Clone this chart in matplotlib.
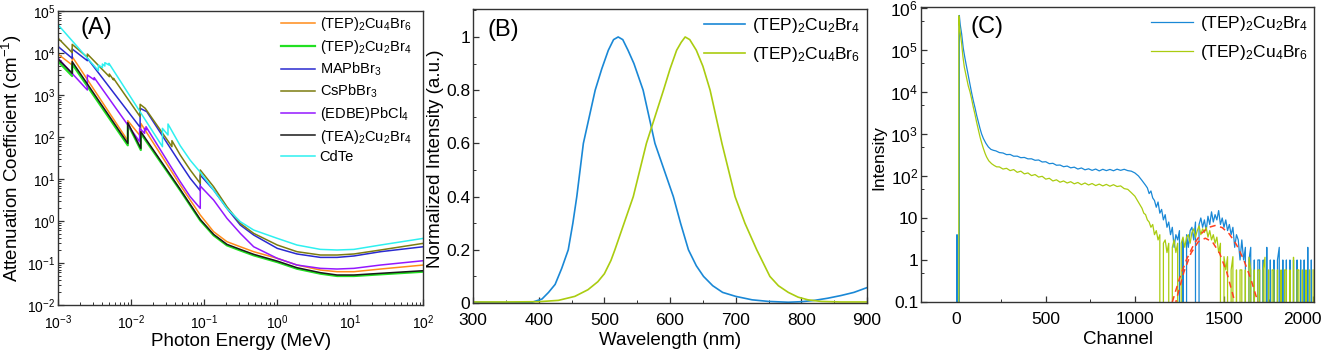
import math
import matplotlib
matplotlib.use("Agg")
import matplotlib.pyplot as plt
import matplotlib.transforms as mtransforms
from matplotlib.ticker import LogLocator, MultipleLocator, FuncFormatter, NullFormatter

plt.rcParams['font.family'] = ['Liberation Sans', 'DejaVu Sans']
plt.rcParams['mathtext.fontset'] = 'custom'
plt.rcParams['mathtext.rm'] = 'Liberation Sans'
plt.rcParams['mathtext.default'] = 'regular'
plt.rcParams['axes.linewidth'] = 1.0

# ---------------- (A) attenuation coefficient ----------------
E_cu = [0.001, 0.00155, 0.00155, 0.00895, 0.00895, 0.0135, 0.0135, 0.0468, 0.0641, 0.088,
        0.134, 0.204, 0.311, 0.474, 1.0, 1.86, 3.89, 6.59, 11.2, 25.9, 100]
mu_tep_cu4br6 = [9290, 5176, 8180, 81.8, 245, 102, 211, 7.19, 3.16, 1.39,
                 0.557, 0.322, 0.244, 0.186, 0.129, 0.0895, 0.068, 0.0621, 0.0621, 0.0719, 0.0895]
mu_tep_cu2br4 = [6223, 2831, 5470, 63.4, 204, 49.0, 122, 5.36, 2.35, 1.03,
                 0.455, 0.263, 0.199, 0.152, 0.105, 0.073, 0.0557, 0.049, 0.049, 0.0537, 0.062]
mu_tea_cu2br4 = [7063, 3281, 6223, 70.6, 219, 53.7, 134, 5.67, 2.49, 1.09,
                 0.481, 0.278, 0.211, 0.161, 0.111, 0.0773, 0.0589, 0.0518, 0.0518, 0.0568, 0.0656]

E_mapbbr3 = [0.001, 0.00155, 0.00155, 0.0025, 0.0025, 0.0132, 0.0132, 0.0163, 0.0468, 0.0641,
             0.088, 0.088, 0.134, 0.204, 0.311, 0.474, 1.0, 1.86, 3.89, 6.59, 11.2, 25.9, 100]
mu_mapbbr3 = [14160, 7464, 12450, 6561, 7464, 170, 482, 401, 23.6, 10.4,
              5.27, 12.4, 5.47, 2.00, 0.802, 0.464, 0.223, 0.164, 0.136, 0.136, 0.147, 0.186, 0.244]

E_cspbbr3 = [0.001, 0.00155, 0.00155, 0.0025, 0.0025, 0.0050, 0.0050, 0.0057, 0.0057, 0.0132,
             0.0132, 0.0155, 0.036, 0.036, 0.0468, 0.0641, 0.088, 0.088, 0.134, 0.204,
             0.311, 0.474, 1.0, 1.86, 3.89, 6.59, 11.2, 25.9, 100]
mu_cspbbr3 = [22330, 10190, 16070, 7890, 9460, 2735, 3162, 2300, 2500, 305,
              600, 482, 58.9, 81.8, 37.2, 16.4, 7.87, 16.4, 6.56, 2.19,
              0.879, 0.508, 0.268, 0.186, 0.155, 0.155, 0.164, 0.204, 0.294]

E_edbe = [0.001, 0.0025, 0.0025, 0.0031, 0.0031, 0.013, 0.013, 0.0152, 0.0152, 0.0159,
          0.0159, 0.0468, 0.0641, 0.088, 0.088, 0.134, 0.204, 0.311, 0.474, 1.0,
          1.86, 3.89, 6.59, 11.2, 25.9, 100]
mu_edbe = [7464, 1315, 2994, 2300, 2600, 77.4, 161, 122, 161, 147,
           176, 8.63, 3.79, 2.00, 6.81, 3.16, 1.16, 0.508, 0.244, 0.129,
           0.0895, 0.0746, 0.0719, 0.0746, 0.0895, 0.1135]

E_cdte = [0.001, 0.00354, 0.00354, 0.00402, 0.00402, 0.00434, 0.00434, 0.00494, 0.00494, 0.0267,
          0.0267, 0.0318, 0.0318, 0.0468, 0.0641, 0.088, 0.134, 0.204, 0.311, 0.474,
          1.0, 1.86, 3.89, 6.59, 11.2, 25.9, 100]
mu_cdte = [46400, 3793, 5176, 4477, 5470, 4898, 5888, 5176, 5675, 58.9,
           160.7, 111.6, 204, 62, 28, 14.5, 5.47, 2.00, 0.964, 0.610,
           0.386, 0.268, 0.211, 0.204, 0.211, 0.268, 0.386]

# ---------------- (B) photoluminescence ----------------
wl_cu2br4 = [300, 350, 390, 405, 415, 425, 435, 445, 452, 458, 463, 468, 477, 486, 496, 506, 514,
             521, 528, 536, 545, 559, 568, 577, 591, 605, 616, 628, 640, 651, 665, 680, 700,
             725, 750, 780, 800, 820, 840, 860, 880, 900]
pl_cu2br4 = [0.003, 0.002, 0.003, 0.015, 0.04, 0.07, 0.13, 0.2, 0.3, 0.4, 0.5, 0.6, 0.7, 0.8,
             0.88, 0.95, 0.99, 1.0, 0.99, 0.95, 0.9, 0.8, 0.7, 0.6, 0.5, 0.4, 0.3, 0.2, 0.14,
             0.1, 0.065, 0.04, 0.025, 0.012, 0.006, 0.003, 0.005, 0.01, 0.018, 0.028, 0.04, 0.058]
wl_cu4br6 = [300, 350, 400, 430, 455, 475, 490, 500, 510, 516, 530, 544, 554, 564, 577, 590, 600,
             610, 617, 623, 630, 640, 650, 661, 670, 679, 689, 699, 714, 732, 752, 765, 780,
             795, 810, 830, 860, 900]
pl_cu4br6 = [0.004, 0.004, 0.005, 0.01, 0.025, 0.05, 0.08, 0.11, 0.16, 0.2, 0.3, 0.4, 0.5, 0.6,
             0.7, 0.8, 0.88, 0.95, 0.98, 1.0, 0.99, 0.95, 0.89, 0.8, 0.7, 0.6, 0.5, 0.4, 0.3,
             0.2, 0.1, 0.065, 0.04, 0.022, 0.012, 0.006, 0.004, 0.004]

# ---------------- (C) pulse height spectra ----------------
ch_cu2br4 = [0, 2, 3, 12, 15, 20, 28, 37, 47, 56, 65, 75, 84, 93, 103, 112, 122, 131, 140, 150,
             164, 178, 192, 206,
             220, 240, 260, 280, 300, 320, 340, 360, 380, 400, 420, 440, 460, 480, 500, 520,
             540, 560, 580, 600, 620, 640, 660, 680, 700, 720, 740, 760, 780, 800, 820, 840,
             860, 880, 900, 920, 940, 960, 980, 1000, 1020, 1040,
             1060, 1070, 1080, 1090, 1100, 1110, 1120, 1130, 1140, 1150, 1160, 1170, 1180, 1190,
             1200, 1210, 1220, 1230, 1240, 1250, 1260, 1270, 1280, 1290, 1300, 1310, 1320, 1330,
             1340, 1350, 1360, 1370, 1380, 1390, 1400, 1410, 1420, 1430, 1440, 1450, 1460, 1470,
             1480, 1490, 1500, 1510, 1520, 1530, 1540, 1550, 1560, 1570, 1580, 1590, 1600, 1610,
             1620, 1630, 1640, 1650, 1660, 1670, 1680, 1690, 1700, 1710, 1720, 1730, 1740, 1750,
             1760, 1770, 1780, 1790, 1800, 1810, 1820, 1830, 1840, 1850, 1860, 1870, 1880, 1890,
             1900, 1910, 1920, 1930, 1940, 1950, 1960, 1970, 1980, 1990, 2000]
cnt_cu2br4 = [0, 4, 0, 0, 660000, 400000, 240000, 110000, 62000, 39000, 24000, 14400, 9500, 6300,
              4200, 2800, 1900, 1350, 1000, 780,
              600, 490, 430, 408,
              395, 360, 352, 322, 325, 295, 296, 272, 276, 255, 256, 236, 240, 215, 218, 196,
              200, 180, 182, 166, 172, 156, 162, 146, 155, 140, 148, 136, 146, 132, 144, 134,
              143, 133, 145, 136, 144, 134, 130, 118, 100, 78,
              60, 52, 38, 44, 30, 26, 18, 24, 13, 16, 9, 12, 6, 8,
              4, 6, 2, 4, 3, 5, 0, 3, 0, 4, 2, 5, 6, 3,
              8, 0, 7, 10, 6, 9, 5, 11, 7, 14, 8, 12, 9, 15,
              7, 10, 6, 9, 5, 7, 4, 6, 2, 4, 3, 1, 3, 1,
              2, 0, 1, 2, 0, 1, 0, 1, 1, 0, 1, 0, 2, 0,
              1, 0, 1, 0, 1, 2, 0, 1, 0, 1, 0, 1, 0, 1,
              0, 1, 0, 1, 0, 1, 0, 2, 0, 1, 0]

ch_cu4br6 = [0, 9, 12, 18, 28, 35, 43, 50, 56, 65, 75, 84, 93, 103, 112, 122, 131, 140, 150, 160,
             168, 180, 196, 210, 224,
             240, 260, 280, 300, 320, 340, 360, 380, 400, 420, 440, 460, 480, 500, 520, 540,
             560, 580, 600, 620, 640, 660, 680, 700, 720, 740, 760, 780, 800, 820, 840, 860,
             880, 900, 920, 940, 960, 980,
             1000, 1010, 1020, 1030, 1040, 1050, 1060, 1070, 1080, 1090, 1100, 1110, 1120, 1130,
             1140, 1150, 1160, 1170, 1180, 1190, 1200, 1210, 1220, 1230, 1240, 1250, 1260, 1270,
             1280, 1290, 1300, 1310, 1320, 1330, 1340, 1350, 1360, 1370, 1380, 1390, 1400, 1410,
             1420, 1430, 1440, 1450, 1460, 1470, 1480, 1490, 1500, 1510, 1520, 1530, 1540, 1550,
             1560, 1570, 1580, 1590, 1600, 1610, 1620, 1630, 1640, 1650, 1660, 1670, 1680, 1690,
             1700, 1710, 1720, 1730, 1740, 1750, 1760, 1770, 1780, 1790, 1800, 1810, 1820, 1830,
             1840, 1850, 1860, 1870, 1880, 1890, 1900, 1910, 1920, 1930, 1940, 1950, 1960, 1970,
             1980, 1990, 2000]
cnt_cu4br6 = [0, 0, 650000, 300000, 140000, 70000, 39000, 28000, 21000, 14000, 10000, 6800, 4400,
              2900, 1900, 1250, 850, 620, 450, 340,
              283, 230, 196, 178, 165,
              164, 146, 152, 134, 142, 122, 130, 112, 118, 102, 108, 94, 98, 84, 88, 76,
              81, 71, 76, 68, 73, 65, 70, 62, 68, 61, 66, 59, 64, 58, 63, 57,
              62, 56, 58, 50, 48, 40,
              33, 28, 24, 20, 17, 13, 12, 9, 8, 6, 7, 4, 5, 3,
              4, 0, 2.5, 3, 1.5, 2.5, 0, 2, 3, 1.5, 2.5, 0, 2.5, 3.5,
              2, 3.5, 4, 2.5, 4.5, 5.5, 3.5, 5, 6.5, 4, 5.5, 4.5, 6, 3.5,
              5, 3, 4, 2.5, 3.5, 1.5, 2.5, 0, 1.2, 0.58, 1.2, 0, 0.58, 1.2,
              0, 0.58, 0, 0.58, 0.58, 0, 0.58, 0, 1.16, 0.58, 0, 0.58, 0, 0.58,
              0.58, 0, 0.58, 1.16, 0, 0.58, 0, 0.58, 0.58, 0, 0.58, 0, 0.58, 0,
              0.58, 0.58, 0, 0.58, 0, 1.16, 0, 0.58, 0.58, 0, 0.58, 0, 0.58, 0,
              0.58, 0, 0.58]

ch_fit_cu2br4 = [1210, 1250, 1290, 1330, 1370, 1410, 1450, 1490, 1530, 1570, 1610, 1650, 1690]
fit_cu2br4 = [0.1, 0.36, 1.03, 2.32, 4.15, 5.9, 6.6, 5.9, 4.15, 2.32, 1.03, 0.36, 0.1]
ch_fit_cu4br6 = [1225, 1235, 1275, 1315, 1355, 1395, 1435, 1475, 1515, 1555, 1565]
fit_cu4br6 = [0.08, 0.123, 0.52, 1.46, 2.7, 3.3, 2.7, 1.46, 0.52, 0.123, 0.08]

c_orange = '#ff8c1a'
c_green = '#22e022'
c_blue = '#2a2ad0'
c_olive = '#7c7c10'
c_purple = '#9418ff'
c_black = '#1a1a1a'
c_cyan = '#2ef0f0'
c_pl_blue = '#1a88d6'
c_pl_green = '#aacc10'

fig = plt.figure(figsize=(13.25, 3.54), dpi=100)
axA = fig.add_axes([0.0440, 0.1384, 0.2755, 0.8305])
axB = fig.add_axes([0.3570, 0.1440, 0.2974, 0.8305])
axC = fig.add_axes([0.6951, 0.1469, 0.2966, 0.8333])

for ax in (axA, axB, axC):
    for s in ax.spines.values():
        s.set_color('#333333')
    ax.tick_params(which='both', direction='in', color='#333333')
    ax.tick_params(which='major', length=4, width=0.9)
    ax.tick_params(which='minor', length=2.2, width=0.7)

# (A)
axA.plot(E_cu, mu_tep_cu4br6, color=c_orange, lw=1.1, label='(TEP)$_2$Cu$_4$Br$_6$')
axA.plot(E_cu, mu_tep_cu2br4, color=c_green, lw=1.6, label='(TEP)$_2$Cu$_2$Br$_4$')
axA.plot(E_mapbbr3, mu_mapbbr3, color=c_blue, lw=1.1, label='MAPbBr$_3$')
axA.plot(E_cspbbr3, mu_cspbbr3, color=c_olive, lw=1.1, label='CsPbBr$_3$')
axA.plot(E_edbe, mu_edbe, color=c_purple, lw=1.1, label='(EDBE)PbCl$_4$')
axA.plot(E_cu, mu_tea_cu2br4, color=c_black, lw=1.1, label='(TEA)$_2$Cu$_2$Br$_4$')
axA.plot(E_cdte, mu_cdte, color=c_cyan, lw=1.1, label='CdTe')
axA.set_xscale('log')
axA.set_yscale('log')
axA.set_xlim(1e-3, 1e2)
axA.set_ylim(1e-2, 1e5)
axA.xaxis.set_major_locator(LogLocator(base=10, numticks=10))
axA.xaxis.set_minor_locator(LogLocator(base=10, subs=range(2, 10), numticks=20))
axA.yaxis.set_major_locator(LogLocator(base=10, numticks=10))
axA.yaxis.set_minor_locator(LogLocator(base=10, subs=range(2, 10), numticks=20))
axA.xaxis.set_minor_formatter(NullFormatter())
axA.yaxis.set_minor_formatter(NullFormatter())
axA.tick_params(labelsize=10)
axA.tick_params(axis='x', pad=6)
axA.tick_params(axis='y', pad=2)
axA.set_xlabel('Photon Energy (MeV)', fontsize=13.5, labelpad=1)
axA.set_ylabel('Attenuation Coefficient (cm$^{-1}$)', fontsize=13.5)
axA.yaxis.set_label_coords(-0.095, 0.5)
axA.text(0.06, 0.942, '(A)', transform=axA.transAxes, fontsize=17, va='center', ha='left')
axA.legend(loc='upper left', bbox_to_anchor=(0.61, 0.985), frameon=False, fontsize=10.5,
           handlelength=2.3, handletextpad=0.35, labelspacing=0.32, borderpad=0, borderaxespad=0)

# (B)
axB.plot(wl_cu2br4, pl_cu2br4, color=c_pl_blue, lw=1.2, label='(TEP)$_2$Cu$_2$Br$_4$')
axB.plot(wl_cu4br6, pl_cu4br6, color=c_pl_green, lw=1.2, label='(TEP)$_2$Cu$_4$Br$_6$')
axB.set_xlim(300, 900)
axB.set_ylim(0, 1.105)
axB.xaxis.set_major_locator(MultipleLocator(100))
axB.xaxis.set_minor_locator(MultipleLocator(50))
axB.yaxis.set_major_locator(MultipleLocator(0.2))
axB.yaxis.set_minor_locator(MultipleLocator(0.1))
axB.yaxis.set_major_formatter(FuncFormatter(lambda v, p: '%g' % round(v, 1)))
axB.tick_params(labelsize=12.5)
axB.tick_params(axis='x', pad=7)
axB.tick_params(axis='y', pad=2)
axB.set_xlabel('Wavelength (nm)', fontsize=13.5, labelpad=3)
axB.set_ylabel('Normalized Intensity (a.u.)', fontsize=13.5)
axB.yaxis.set_label_coords(-0.073, 0.49)
axB.text(0.038, 0.929, '(B)', transform=axB.transAxes, fontsize=17, va='center', ha='left')
axB.legend(loc='upper left', bbox_to_anchor=(0.585, 0.975), frameon=False, fontsize=12.5,
           handlelength=2.4, handletextpad=0.4, labelspacing=0.55, borderpad=0, borderaxespad=0)

# (C)
axC.plot(ch_cu2br4, cnt_cu2br4, color=c_pl_blue, lw=0.9, label='(TEP)$_2$Cu$_2$Br$_4$')
axC.plot(ch_cu4br6, cnt_cu4br6, color=c_pl_green, lw=0.9, label='(TEP)$_2$Cu$_4$Br$_6$')
axC.plot(ch_fit_cu2br4, fit_cu2br4, color='#ff4020', lw=1.1, ls=(0, (4, 3)))
axC.plot(ch_fit_cu4br6, fit_cu4br6, color='#ff4020', lw=1.1, ls=(0, (4, 3)))
axC.set_yscale('log')
axC.set_xlim(-200, 2005)
axC.set_ylim(0.1, 1.05e6)
axC.set_xticks([0, 500, 1000, 1500, 2000])
axC.xaxis.set_minor_locator(MultipleLocator(250))
axC.yaxis.set_major_locator(LogLocator(base=10, numticks=10))
axC.yaxis.set_minor_locator(LogLocator(base=10, subs=[5], numticks=20))
axC.yaxis.set_minor_formatter(NullFormatter())


def c_label(v, pos):
    if v < 0.5:
        return '0.1'
    if v < 50:
        return '%d' % round(v)
    return '10$^{%d}$' % round(math.log10(v))


axC.yaxis.set_major_formatter(FuncFormatter(c_label))
axC.tick_params(labelsize=12.5)
axC.tick_params(axis='x', pad=7)
axC.tick_params(axis='y', pad=2)
axC.set_xlabel('Channel', fontsize=13.5, labelpad=3)
axC.set_ylabel('Intensity', fontsize=12.5)
axC.yaxis.set_label_coords(-0.087, 0.49)
axC.text(0.125, 0.932, '(C)', transform=axC.transAxes, fontsize=17, va='center', ha='left')
axC.legend(loc='upper left', bbox_to_anchor=(0.585, 0.975), frameon=False, fontsize=12.5,
           handlelength=2.4, handletextpad=0.4, labelspacing=0.55, borderpad=0, borderaxespad=0)

# keep the last channel label inside the figure, as in the original
fig.canvas.draw()
last = axC.get_xticklabels()[-1]
last.set_transform(last.get_transform() + mtransforms.ScaledTranslation(-0.11, 0, fig.dpi_scale_trans))

fig.savefig('out.png', dpi=100)
